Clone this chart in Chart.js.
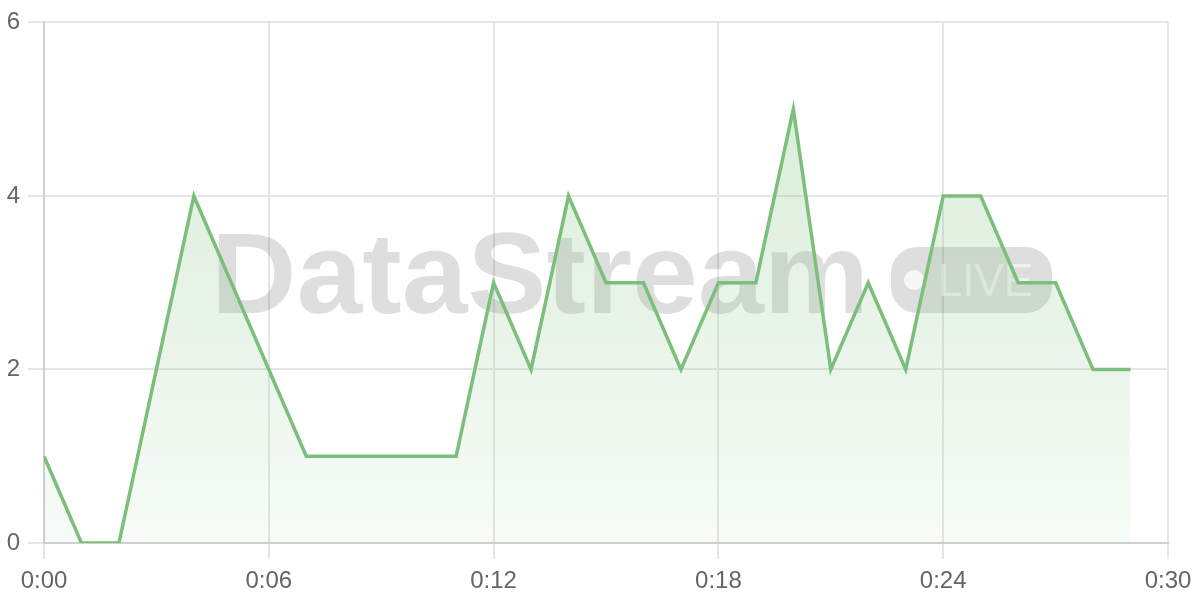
<!DOCTYPE html>
<html>
<head>
<meta charset="utf-8">
<script src="https://cdn.jsdelivr.net/npm/chart.js@4"></script>
<style>
html,body{margin:0;padding:0;background:#fff;}
#wrap{width:1200px;height:600px;}
</style>
</head>
<body>
<div id="wrap"><canvas id="c" width="1200" height="600"></canvas></div>
<script>
const minutes = [0,1,2,3,4,5,6,7,8,9,10,11,12,13,14,15,16,17,18,19,20,21,22,23,24,25,26,27,28,29];
const counts  = [1,0,0,2,4,3,2,1,1,1,1,1,3,2,4,3,3,2,3,3,5,2,3,2,4,4,3,3,2,2];
const xTicks = [0,6,12,18,24,30];
const yTicks = [0,2,4,6];
const watermarkText = "DataStream";
const badgeText = "LIVE";

const fmt = v => { const m = Math.round(v); return Math.floor(m/60) + ":" + String(m%60).padStart(2,"0"); };

const watermark = {
  id: "watermark",
  beforeDatasetsDraw(chart) {
    const ctx = chart.ctx;
    ctx.save();
    ctx.fillStyle = "rgba(0,0,0,0.13)";
    ctx.font = "bold 115px 'Liberation Sans', Arial, sans-serif";
    ctx.textBaseline = "alphabetic";
    const w = ctx.measureText(watermarkText).width;
    ctx.translate(211, 313);
    ctx.scale(658 / w, 1);
    ctx.fillText(watermarkText, 0, 0);
    ctx.restore();

    ctx.save();
    ctx.fillStyle = "rgba(0,0,0,0.13)";
    ctx.beginPath();
    ctx.roundRect(891, 247, 161, 66, 26);
    ctx.fill();
    ctx.fillStyle = "rgba(255,255,255,0.75)";
    ctx.beginPath();
    ctx.arc(914, 280, 10, 0, Math.PI*2);
    ctx.fill();
    ctx.fillStyle = "rgba(255,255,255,0.55)";
    ctx.font = "46px 'Liberation Sans', Arial, sans-serif";
    ctx.textBaseline = "alphabetic";
    const lw = ctx.measureText(badgeText).width;
    ctx.translate(938, 296);
    ctx.scale(95 / lw, 1);
    ctx.fillText(badgeText, 0, 0);
    ctx.restore();
  }
};

const ctx = document.getElementById("c").getContext("2d");
new Chart(ctx, {
  type: "line",
  data: {
    datasets: [{
      data: minutes.map((m, i) => ({x: m, y: counts[i]})),
      borderColor: "#7cbf7c",
      borderWidth: 3.5,
      pointRadius: 0,
      tension: 0,
      fill: "origin",
      backgroundColor: (c) => {
        const a = c.chart.chartArea;
        if (!a) return "rgba(124,191,124,0.2)";
        const g = c.chart.ctx.createLinearGradient(0, a.top, 0, a.bottom);
        g.addColorStop(0, "rgba(124,191,124,0.32)");
        g.addColorStop(1, "rgba(124,191,124,0.06)");
        return g;
      }
    }]
  },
  options: {
    responsive: false,
    animation: false,
    devicePixelRatio: 1,
    layout: { padding: { top: 20, right: 32, left: 0, bottom: 0 } },
    plugins: { legend: { display: false }, tooltip: { enabled: false } },
    scales: {
      x: {
        type: "linear",
        min: 0, max: 30,
        afterBuildTicks: s => { s.ticks = xTicks.map(v => ({value: v})); },
        afterFit: s => { s.height = 57; },
        ticks: { color: "#666", font: { size: 24, family: "'Liberation Sans', Arial, sans-serif" }, padding: 8, maxRotation: 0, callback: v => fmt(v) },
        grid: { color: "#e6e6e6", lineWidth: 2, tickLength: 16 },
        border: { color: "#d0d0d0", width: 2 }
      },
      y: {
        min: 0, max: 6,
        afterBuildTicks: s => { s.ticks = yTicks.map(v => ({value: v})); },
        afterFit: s => { s.width = 44; },
        ticks: { color: "#666", font: { size: 24, family: "'Liberation Sans', Arial, sans-serif" }, padding: 8 },
        grid: { color: "#e6e6e6", lineWidth: 2, tickLength: 16 },
        border: { color: "#d0d0d0", width: 2 }
      }
    }
  },
  plugins: [watermark]
});
</script>
</body>
</html>
